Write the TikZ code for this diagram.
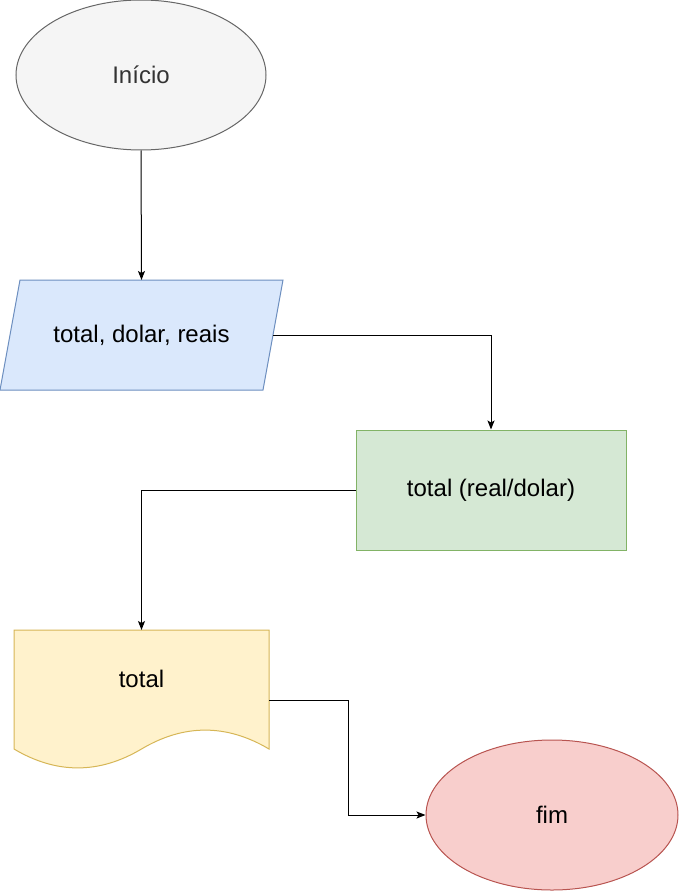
\documentclass[tikz,border=0pt]{standalone}
\usepackage{fontspec}
\setmainfont{Liberation Sans}
\usetikzlibrary{shapes.geometric,arrows.meta}
\definecolor{grayfill}{HTML}{F5F5F5}
\definecolor{graystroke}{HTML}{666666}
\definecolor{graytext}{HTML}{333333}
\definecolor{bluefill}{HTML}{DAE8FC}
\definecolor{bluestroke}{HTML}{6C8EBF}
\definecolor{greenfill}{HTML}{D5E8D4}
\definecolor{greenstroke}{HTML}{82B366}
\definecolor{yellowfill}{HTML}{FFF2CC}
\definecolor{yellowstroke}{HTML}{D6B656}
\definecolor{redfill}{HTML}{F8CECC}
\definecolor{redstroke}{HTML}{B85450}
\tikzset{
  lbl/.style={font=\fontsize{24}{28}\selectfont, text=black},
  conn/.style={line width=1pt, -{Stealth[length=9pt,width=7pt,inset=2pt]}},
  shp/.style={line width=1pt},
}
\begin{document}
\begin{tikzpicture}[x=1pt,y=-1pt]
\useasboundingbox (0,0) rectangle (678,891);
% Inicio
\node[ellipse, draw=graystroke, fill=grayfill, shp, minimum width=250pt, minimum height=150pt, inner sep=0pt,
      font=\fontsize{24}{28}\selectfont, text=graytext] (inicio) at (141,75) {Início};
% parallelogram
\coordinate (pin) at (141.5,280);
\coordinate (pout) at (273,335);
\draw[shp, draw=bluestroke, fill=bluefill] (20,280) -- (283,280) -- (263,390) -- (0,390) -- cycle;
\node[lbl] (entrada) at (141.5,335) {total, dolar, reais};
% process
\node[rectangle, draw=greenstroke, fill=greenfill, shp, minimum width=270pt, minimum height=120pt, inner sep=0pt, lbl] (proc) at (491,490) {total (real/dolar)};
% document
\coordinate (dtop) at (141.5,630);
\coordinate (dout) at (269,700);
\draw[shp, draw=yellowstroke, fill=yellowfill] (14,630) -- (269,630) -- (269,749)
  .. controls (226.5,723.8) and (184,723.8) .. (141.5,749)
  .. controls (99,774.2) and (56.5,774.2) .. (14,749) -- cycle;
\node[lbl] (saida) at (141.5,679) {total};
% fim
\node[ellipse, draw=redstroke, fill=redfill, shp, minimum width=252pt, minimum height=150pt, inner sep=0pt, lbl] (fim) at (552,815) {fim};
% connectors
\draw[conn] (inicio.south) -- (pin);
\draw[conn] (pout) -| (proc.north);
\draw[conn] (proc.west) -| (dtop);
\draw[conn] (dout) -- (348,700) |- (fim.west);
\end{tikzpicture}
\end{document}
